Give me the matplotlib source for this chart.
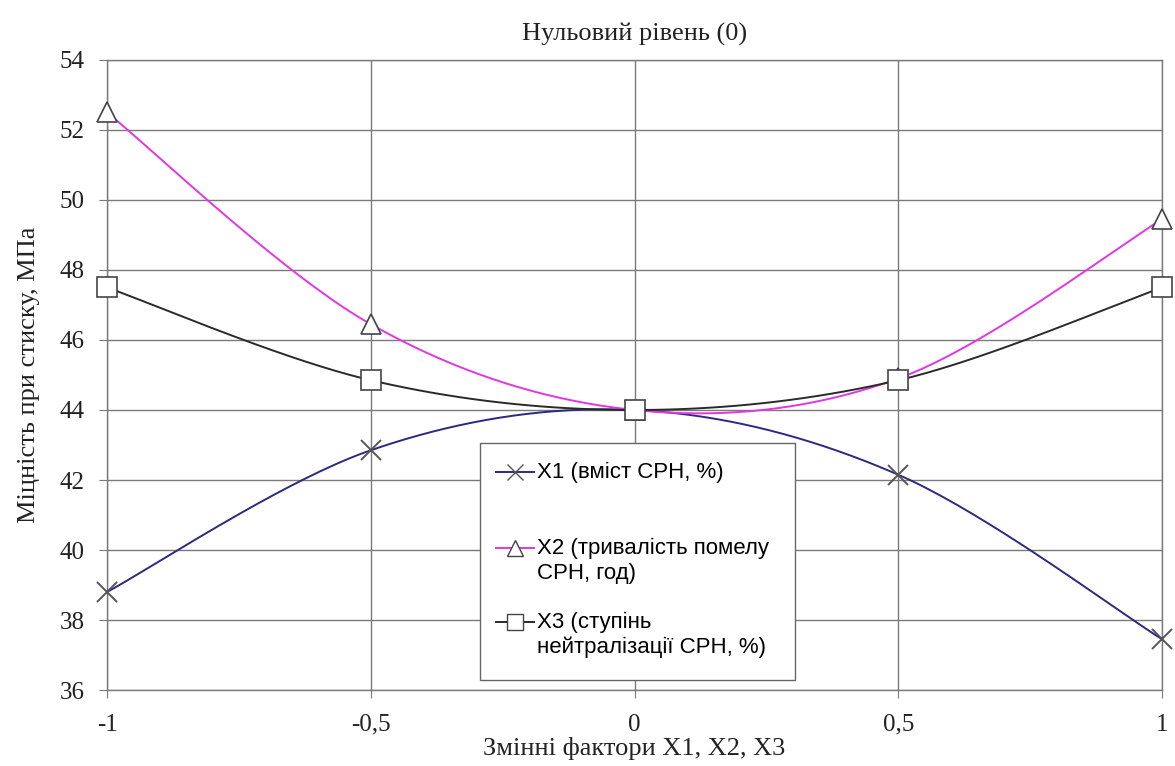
import numpy as np
import matplotlib.pyplot as plt
from matplotlib.lines import Line2D
from matplotlib.patches import Rectangle
from matplotlib.ticker import FixedLocator, FuncFormatter

# --- Data ---
levels = [-1, -0.5, 0, 0.5, 1]
x1_vals = [38.8, 42.85, 44.0, 42.15, 37.45]
x2_vals = [52.5, 46.45, 44.0, 44.9, 49.45]
x3_vals = [47.5, 44.85, 44.0, 44.85, 47.5]

labels = [['X1 (вміст СРН, %)'],
          ['X2 (тривалість помелу', 'СРН, год)'],
          ['X3 (ступінь', 'нейтралізації СРН, %)']]


def smooth(xs, ys, n=40):
    # Excel-like smoothed line through the points (Catmull-Rom as Bezier)
    xs = np.asarray(xs, float)
    ys = np.asarray(ys, float)
    px = np.concatenate([[xs[0]], xs, [xs[-1]]])
    py = np.concatenate([[ys[0]], ys, [ys[-1]]])
    out_x, out_y = [], []
    t = np.linspace(0, 1, n)
    for i in range(1, len(px) - 2):
        p0 = np.array([px[i], py[i]])
        p3 = np.array([px[i + 1], py[i + 1]])
        c1 = p0 + (np.array([px[i + 1], py[i + 1]]) - np.array([px[i - 1], py[i - 1]])) / 6
        c2 = p3 - (np.array([px[i + 2], py[i + 2]]) - np.array([px[i], py[i]])) / 6
        b = ((1 - t) ** 3)[:, None] * p0 + (3 * (1 - t) ** 2 * t)[:, None] * c1 \
            + (3 * (1 - t) * t ** 2)[:, None] * c2 + (t ** 3)[:, None] * p3
        out_x.extend(b[:, 0])
        out_y.extend(b[:, 1])
    return out_x, out_y


serif = ['Liberation Serif', 'DejaVu Serif']
sans = ['Liberation Sans', 'DejaVu Sans']
txt_c = '#222222'

fig = plt.figure(figsize=(11.75, 7.66), dpi=100)
ax = fig.add_axes([0.0911, 0.0992, 0.8979, 0.8225])

grid_c = '#7a7a7a'
styles = [
    dict(line='#2a2a80', marker='x', ms=15, mew=1.4, mfc='none', mec='#555555', lms=11),
    dict(line='#e236e2', marker='^', ms=15, mew=1.2, mfc='white', mec='#444444', lms=11),
    dict(line='#2a2a2a', marker='s', ms=15, mew=1.2, mfc='white', mec='#444444', lms=11),
]

for vals, st in zip([x1_vals, x2_vals, x3_vals], styles):
    sx, sy = smooth(levels, vals)
    ax.plot(sx, sy, color=st['line'], lw=1.4, zorder=3)
    ax.plot(levels, vals, linestyle='none', marker=st['marker'], ms=st['ms'],
            mew=st['mew'], mfc=st['mfc'], mec=st['mec'], zorder=4, clip_on=False)

ax.set_xlim(-1, 1)
ax.set_ylim(36, 54)
ax.xaxis.set_major_locator(FixedLocator(levels))
ax.yaxis.set_major_locator(FixedLocator(range(36, 55, 2)))
ax.xaxis.set_major_formatter(FuncFormatter(lambda v, p: ('%g' % v).replace('.', ',')))
ax.grid(True, color=grid_c, lw=1.0)
ax.set_axisbelow(True)
for s in ax.spines.values():
    s.set_color(grid_c)
    s.set_linewidth(1.0)
ax.tick_params(axis='both', direction='out', length=6, color=grid_c, labelsize=18)
ax.tick_params(axis='y', pad=10)
ax.tick_params(axis='x', pad=11)
for t in ax.get_xticklabels() + ax.get_yticklabels():
    t.set_family(serif)
    t.set_color(txt_c)

ax.set_title('Нульовий рівень (0)', family=serif, fontsize=19, color=txt_c, pad=14)
ax.set_xlabel('Змінні фактори X1, X2, X3', family=serif, fontsize=19, color=txt_c, labelpad=1)
ax.set_ylabel('Міцність при стиску, МПа', family=serif, fontsize=19, color=txt_c, labelpad=14)

# --- Excel-style legend (handle aligned with first label line) ---
ax_w_px, ax_h_px = 1055.0, 630.0
box = Rectangle((0.3536, 0.0159), 0.2985, 0.3762, transform=ax.transAxes,
                facecolor='white', edgecolor='#666666', lw=1.0, zorder=6)
ax.add_patch(box)
entry_y = [0.3460, 0.2254, 0.1079]
line_step = 25.0 / ax_h_px
for st, lines, ey in zip(styles, labels, entry_y):
    ax.add_line(Line2D([0.3686, 0.4047], [ey, ey], transform=ax.transAxes,
                       color=st['line'], lw=1.4, zorder=7))
    ax.add_line(Line2D([0.3866], [ey], transform=ax.transAxes, marker=st['marker'],
                       ms=st['lms'], mew=1.0, mfc=st['mfc'], mec=st['mec'], zorder=8))
    for k, ln in enumerate(lines):
        ax.text(0.4076, ey - k * line_step, ln, transform=ax.transAxes,
                family=sans, fontsize=16, color='black', va='center', ha='left', zorder=8)

fig.savefig('out.png', dpi=100)
